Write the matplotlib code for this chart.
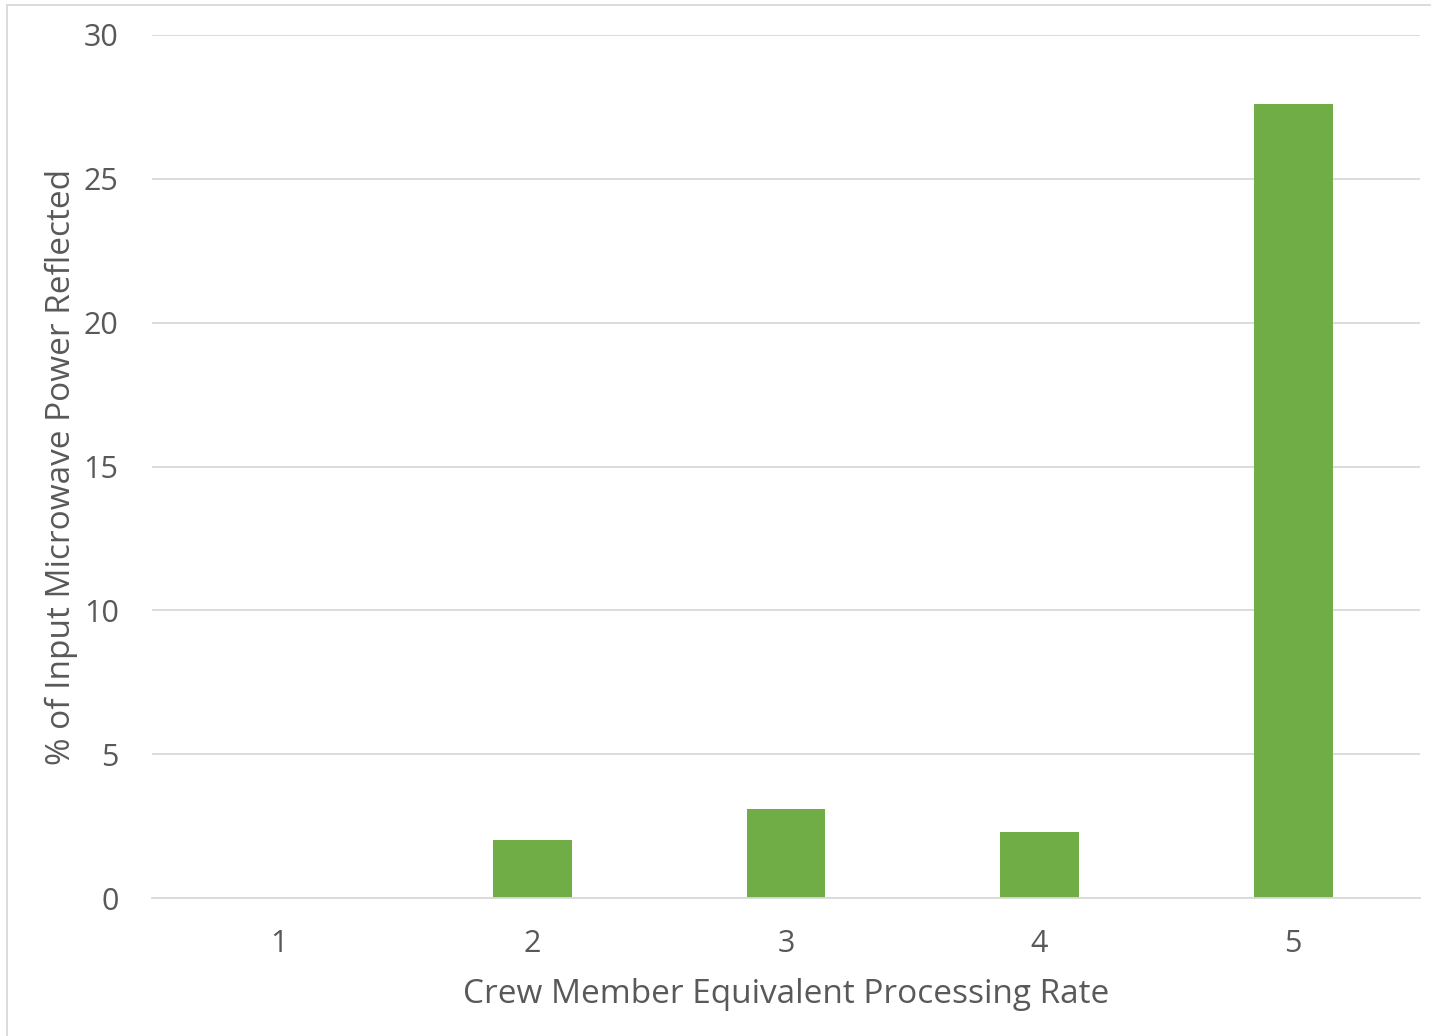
import matplotlib
matplotlib.use("Agg")
import matplotlib.pyplot as plt
from matplotlib.patches import Rectangle

# Reflected power per processing rate
rates = ["1", "2", "3", "4", "5"]
reflected = [0.0, 2.0, 3.1, 2.3, 27.6]
y_ticks = [0, 5, 10, 15, 20, 25, 30]

TEXT = "#595959"
GRID = "#d9d9d9"
BAR = "#70ad47"

plt.rcParams["font.family"] = ["Open Sans", "DejaVu Sans"]

fig = plt.figure(figsize=(14.31, 10.36), dpi=100)
W, H = 1431, 1036
ax = fig.add_axes([152 / W, 1 - 898 / H, (1420 - 152) / W, (898 - 35) / H])

x = range(len(rates))
ax.bar(x, reflected, width=0.31, color=BAR, zorder=3)

ax.set_xlim(-0.5, len(rates) - 0.5)
ax.set_ylim(0, 30)
ax.set_yticks(y_ticks)
ax.set_xticks(list(x))
ax.set_xticklabels(rates)

ax.grid(axis="y", color=GRID, linewidth=1.3, zorder=0)
for s in ["top", "right", "left"]:
    ax.spines[s].set_visible(False)
ax.spines["bottom"].set_color(GRID)
ax.spines["bottom"].set_linewidth(1.3)
ax.spines["bottom"].set_zorder(4)

ax.tick_params(axis="both", length=0, labelsize=22, labelcolor=TEXT)
ax.tick_params(axis="y", pad=24)
ax.tick_params(axis="x", pad=22)

ax.set_xlabel("Crew Member Equivalent Processing Rate", fontsize=24, color=TEXT, labelpad=14)
ax.set_ylabel("% of Input Microwave Power Reflected", fontsize=24, color=TEXT, labelpad=4)

# chart frame
fig.patches.append(Rectangle((7 / W, -0.1), 1.2, 1 - 5 / H + 0.1, transform=fig.transFigure,
                             fill=False, edgecolor=GRID, linewidth=1.3))

fig.savefig("out.png", dpi=100)
